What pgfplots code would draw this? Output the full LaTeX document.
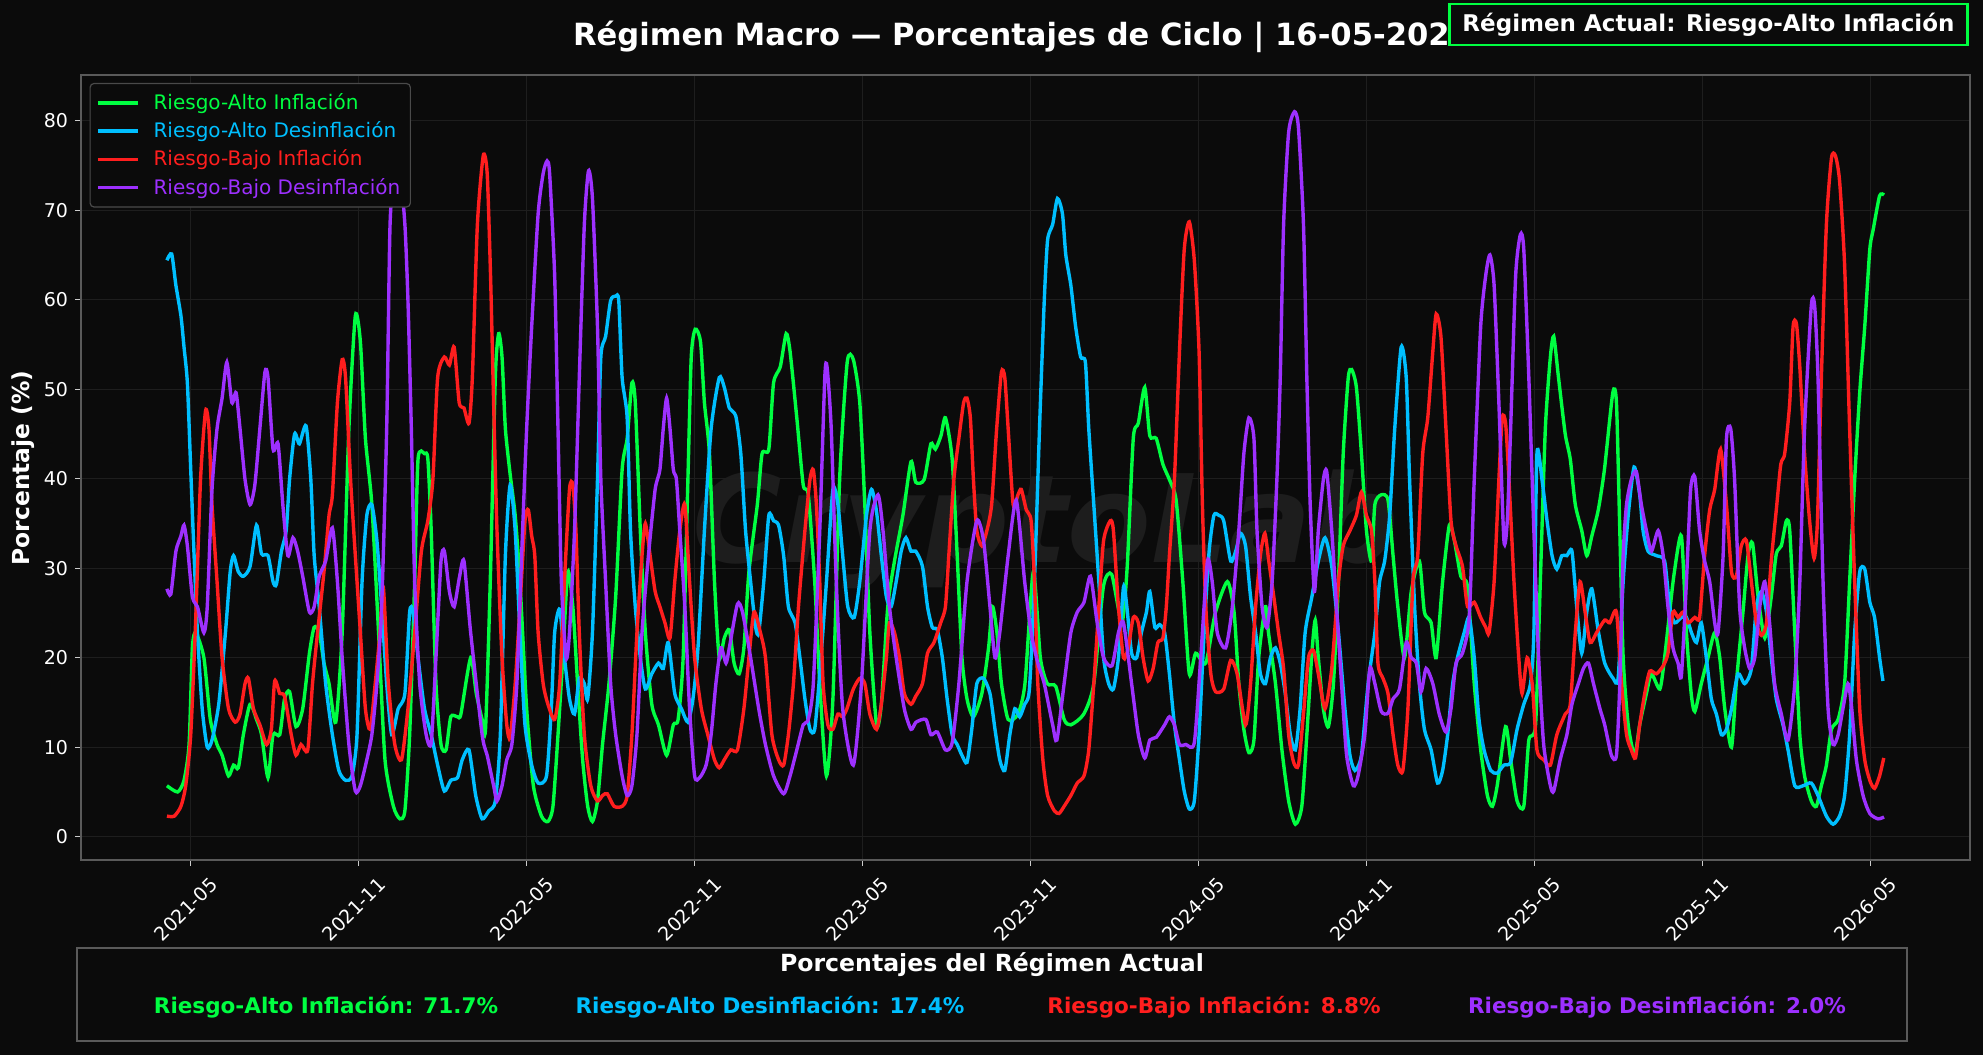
\documentclass[border=0pt]{standalone}
\usepackage{fontspec}
\setmainfont{DejaVu Sans}
\usepackage{pgfplots}
\pgfplotsset{compat=1.18}
\definecolor{bg}{HTML}{0B0B0B}
\definecolor{wm}{HTML}{1D1D1D}
\definecolor{gridc}{HTML}{1E1E1E}
\definecolor{axisc}{HTML}{5A5A5A}
\definecolor{legc}{HTML}{4A4A4A}
\definecolor{cgreen}{HTML}{00FF41}
\definecolor{cblue}{HTML}{00BFFF}
\definecolor{cred}{HTML}{FF1E1E}
\definecolor{cpurple}{HTML}{9D30FF}
\begin{document}
\begin{tikzpicture}
\path[use as bounding box, fill=bg] (0,0) rectangle (991.5pt,527.5pt);
\node[anchor=base, text=wm, font=\fontsize{61}{61}\selectfont\bfseries\itshape] at (523pt,246pt) {CryptoLab};
\begin{axis}[
  at={(40.5pt,97.5pt)}, anchor=south west,
  width=944.5pt, height=392.5pt, scale only axis,
  xmin=0.08, xmax=67.56, ymin=-2.6, ymax=85.1,
  axis line style={draw=axisc, line width=0.8pt},
  xtick={4,10,16,22,28,34,40,46,52,58,64},
  xticklabels={2021-05,2021-11,2022-05,2022-11,2023-05,2023-11,2024-05,2024-11,2025-05,2025-11,2026-05},
  ytick={0,10,20,30,40,50,60,70,80},
  tick pos=left, tick align=outside, major tick length=3pt,
  tick style={draw=white!80!black, line width=0.6pt},
  grid=major, grid style={draw=gridc, line width=0.5pt},
  ticklabel style={font=\fontsize{9.5}{11}\selectfont, text=white},
  xticklabel style={xshift=9pt, yshift=-2pt, rotate=45, anchor=north east, inner sep=2pt},
  /pgf/number format/assume math mode=true,
  legend style={at={(axis description cs:0.0045,0.99)}, anchor=north west,
    fill=bg, draw=legc, rounded corners=2pt, font=\fontsize{10}{11.5}\selectfont,
    row sep=0.6pt, inner sep=3pt, line width=0.6pt},
  legend cell align=left,
  legend image code/.code={\draw[#1] (0cm,0cm) -- (0.7cm,0cm); \path (0.88cm,0cm);},
  every axis plot/.append style={line width=1.7pt, smooth, tension=0.4},
]
\addplot[cgreen] coordinates {
(3.15,5.7)(3.53,5.0)(3.76,6.3)(3.94,10.3)(4.06,21.1)(4.18,22.8)(4.47,20)(4.7,13.1)(4.94,10.3)(5.12,9.1)(5.35,6.8)(5.53,8.0)(5.7,7.7)(5.88,11.4)(6.12,14.8)(6.35,13.1)(6.53,11.4)(6.76,6.6)(6.94,11.4)(7.18,11.4)(7.35,15.4)(7.53,16.2)(7.76,12.3)(8.0,14.3)(8.24,20.5)(8.41,23.4)(8.59,22.8)(8.76,19.4)(8.94,17.1)(9.18,12.8)(9.41,22.8)(9.65,45.6)(9.88,58.2)(10.06,55.3)(10.24,44.5)(10.47,37.1)(10.71,22.8)(10.94,8.6)(11.24,3.4)(11.47,2.0)(11.65,2.9)(11.82,11.4)(12.0,28.5)(12.12,42.2)(12.35,42.8)(12.47,42.2)(12.59,34.2)(12.76,17.1)(12.94,10.3)(13.12,9.7)(13.29,13.4)(13.53,13.4)
(13.65,13.7)(14.0,20)(14.2,16)(14.41,13.1)(14.53,12.0)(14.7,28.5)(14.88,51.3)(15.0,56.2)(15.12,53.6)(15.24,45.6)(15.41,40.5)(15.59,35.9)(15.76,28.5)(16.0,14.3)(16.24,5.7)(16.53,2.3)(16.76,1.7)(16.94,3.4)(17.12,11.4)(17.29,20)(17.47,29.6)(17.65,25.7)(17.82,17.1)(18.0,8.6)(18.18,3.4)(18.35,1.7)(18.53,4.0)(18.71,10.3)(18.94,17.1)(19.18,26.8)(19.41,41.0)(19.59,44.5)(19.76,50.7)(19.88,48.5)(20.06,34.2)(20.24,22.8)(20.47,14.8)(20.71,12.5)(21.0,9.1)(21.24,12.5)(21.41,13.1)(21.59,20)(21.76,39.9)(21.88,53.6)(22.02,56.7)(22.21,55.3)(22.35,48.5)(22.53,42.8)(22.71,28.5)(22.88,20)(23.06,22.2)(23.24,23.1)(23.41,19.4)(23.59,18.2)(23.76,21.1)(23.94,29.6)(24.24,37.1)(24.41,42.8)(24.65,43.3)(24.82,50.7)(25.06,52.5)(25.27,56.2)(25.41,54.2)(25.65,46.8)(25.88,39.3)(26.06,38.2)(26.29,28.5)(26.47,17.1)(26.71,6.8)(26.94,15.4)(27.18,39.9)
(27.45,53.0)(27.67,53.3)(27.9,48.5)(28.08,37.1)(28.26,22.8)(28.5,12.5)(28.67,14.8)(28.9,25.7)(29.14,30.8)(29.44,35.9)(29.73,41.9)(29.9,39.6)(30.2,39.9)(30.44,43.9)(30.6,43.3)(30.8,44.8)(30.96,46.8)(31.2,42.2)(31.38,31.4)(31.55,20)(31.73,15.4)(31.96,13.4)(32.26,16.0)(32.5,21.1)(32.64,25.7)(32.8,22.8)(32.96,17.1)(33.2,13.1)(33.55,13.7)(33.8,17.1)(34.1,29.6)(34.35,20)(34.6,17.1)(34.9,16.8)(35.2,13.1)(35.44,12.5)(35.9,13.7)(36.26,17.1)(36.6,27.9)(36.9,29.3)(37.26,23.9)(37.45,30)(37.67,44.5)(37.85,46.2)(38.08,50.2)(38.26,44.8)(38.49,44.5)(38.73,41.6)(38.96,39.9)(39.2,37.6)(39.44,28.5)(39.67,18.2)(39.9,20.5)(40.26,19.4)(40.6,25)
(41.03,28.5)(41.27,25.1)(41.44,17.1)(41.62,12.0)(41.8,9.4)(41.98,10.8)(42.15,20)(42.39,25.7)(42.5,22.8)(42.75,17.1)(42.98,9.7)(43.22,4.0)(43.46,1.4)(43.69,3.4)(43.87,11.4)(44.05,20.5)(44.17,24.2)(44.28,20)(44.46,14.3)(44.64,12.3)(44.82,17.1)(45.0,28.5)(45.17,42.8)(45.35,51.3)(45.47,52.2)(45.64,50.2)(45.82,42.8)(46.0,34.2)(46.18,30.8)(46.3,37.1)(46.53,38.2)(46.77,37.6)(46.95,31.4)(47.12,25.7)(47.36,20)(47.6,27.4)(47.89,30.8)(48.07,25.1)(48.31,23.9)(48.49,20)(48.72,28.5)(48.96,34.8)(49.14,33.1)(49.37,29.1)(49.61,27.9)(49.85,17.1)(50.08,9.7)(50.32,4.6)(50.5,3.4)(50.67,5.7)(50.97,12.3)(51.15,8.6)(51.38,4.0)(51.62,3.4)(51.8,10.8)(52.04,12.5)(52.21,28.5)(52.39,45.6)(52.57,53.6)(52.69,55.9)(52.86,51.3)(53.1,45.0)(53.28,42.2)(53.46,37.1)(53.69,34.2)(53.87,31.4)(54.05,33.6)(54.28,36.5)
(54.5,41)(54.8,49.6)(54.93,48.5)(55.05,34.2)(55.17,20)(55.35,12.5)(55.58,9.1)(55.76,12.5)(56.0,16.0)(56.18,18.2)(56.48,16.5)(56.65,20)(56.83,25.1)(57.0,29.6)(57.25,33.6)(57.43,22.8)(57.6,16.0)(57.73,14.0)(57.96,17.1)(58.2,20)(58.44,22.8)(58.62,20)(58.8,14.3)(59.04,10.0)(59.21,17.1)(59.45,25.1)(59.63,31.4)(59.79,32.8)(59.99,26.8)(60.23,22.2)(60.46,26.8)(60.64,31.6)(60.82,32.5)(61.0,35.3)(61.12,34.2)(61.3,22.8)(61.48,11.4)(61.65,6.8)(61.89,4.0)(62.07,3.4)(62.25,5.7)(62.43,8.0)(62.61,12.0)(62.85,13.1)(63.08,17.1)(63.26,28.5)(63.44,39.9)(63.62,49.6)(63.8,57.0)(63.98,65.6)(64.1,67.8)(64.33,71.6)(64.49,71.7)
};
\addlegendentry{\textcolor{cgreen}{Riesgo-Alto Inflación}}
\addplot[cblue] coordinates {
(3.15,64.4)(3.32,65.1)(3.47,61.6)(3.65,58.2)(3.76,54.7)(3.88,50.7)(4.0,41.0)(4.12,31.4)(4.24,22.8)(4.41,14.3)(4.59,10.0)(4.76,10.8)(5.0,14.8)(5.24,22.8)(5.41,29.6)(5.53,31.4)(5.7,29.6)(5.88,29.1)(6.12,30.2)(6.35,34.8)(6.53,31.6)(6.76,31.4)(6.94,28.5)(7.06,28.2)(7.24,31.9)(7.41,34.2)(7.53,39.9)(7.71,45.0)(7.88,43.9)(8.12,45.9)(8.29,39.9)(8.41,31.4)(8.59,25.7)(8.82,17.1)(9.06,11.4)(9.29,7.4)(9.53,6.3)(9.76,6.8)(9.94,11.4)(10.12,28.5)(10.29,35.9)(10.47,37.1)(10.65,33.1)(10.82,25.7)(11.0,17.1)(11.18,11.4)(11.41,14.3)(11.65,16.0)(11.82,25.1)(11.94,25.1)(12.12,20)(12.35,14.3)(12.59,11.4)(12.82,8.0)(13.06,5.1)(13.29,6.3)(13.53,6.6)
(13.7,8.6)(13.94,9.7)(14.18,4.6)(14.41,2.0)(14.65,2.9)(14.88,4.0)(15.06,11.4)(15.24,31.4)(15.41,39.3)(15.59,34.2)(15.76,22.8)(15.94,12.5)(16.18,8.0)(16.41,6.0)(16.71,6.8)(16.88,14.3)(17.0,22.8)(17.18,25.4)(17.35,20)(17.53,15.4)(17.71,13.7)(17.88,17.7)(18.06,17.1)(18.18,15.4)(18.35,22.8)(18.53,39.9)(18.65,53.6)(18.82,55.9)(19.0,59.9)(19.18,60.4)(19.29,59.9)(19.41,51.3)(19.59,46.8)(19.71,34.2)(19.88,25.7)(20.06,20)(20.24,16.5)(20.47,18.2)(20.71,19.4)(20.88,18.8)(21.06,21.7)(21.29,16.0)(21.53,14.3)(21.76,12.8)(21.94,15.4)(22.12,21.1)(22.35,34.2)(22.59,45.6)(22.88,51.3)(23.06,50.2)(23.24,47.9)(23.47,47.0)(23.65,42.8)(23.82,34.2)(24.0,28.5)(24.18,23.4)(24.29,22.8)(24.47,28.5)(24.65,35.9)(24.82,35.3)(25.0,34.8)(25.18,31.4)(25.35,25.7)(25.59,23.9)(25.76,20)(25.94,15.4)(26.12,12.0)(26.29,12.0)(26.47,18.2)(26.71,28.5)(26.94,38.8)(27.12,37.1)(27.29,31.4)(27.47,25.7)
(27.7,24.5)(27.9,28.5)(28.14,35.9)(28.32,38.8)(28.49,36.5)(28.67,31.4)(28.85,26.8)(29.02,25.7)(29.2,28.5)(29.38,31.9)(29.55,33.4)(29.73,31.9)(29.9,31.9)(30.14,30.2)(30.32,25.7)(30.49,23.4)(30.67,23.1)(30.85,20)(31.02,15.4)(31.2,11.4)(31.38,10.3)(31.55,9.1)(31.73,8.3)(31.9,12.0)(32.08,17.1)(32.32,17.7)(32.55,16.0)(32.73,12.0)(32.9,8.6)(33.08,7.4)(33.26,11.4)(33.44,14.3)(33.61,13.4)(33.79,14.8)(33.96,16.5)(34.14,28.5)(34.32,45.6)(34.49,59.9)(34.61,66.7)(34.79,68.4)(34.96,71.3)(35.14,69.6)(35.26,65.0)(35.44,61.6)(35.61,57.0)(35.79,53.6)(35.96,53.0)(36.08,45.6)(36.26,37.1)(36.44,28.5)(36.61,20)(36.79,17.1)(36.96,16.5)(37.14,20)(37.32,27.9)(37.44,25.7)(37.61,20.5)(37.79,20)(37.96,22.8)(38.14,25.1)(38.26,27.4)(38.44,23.4)(38.61,23.7)(38.79,22.8)(38.96,18.2)(39.14,12.5)(39.32,8.6)(39.49,5.1)(39.67,3.1)(39.85,4.0)(40.02,11.4)(40.2,22.8)(40.38,31.9)(40.55,35.9)
(40.73,35.9)(40.9,35.3)(41.15,30.8)(41.33,31.9)(41.5,33.9)(41.68,32.5)(41.86,26.8)(42.04,22.8)(42.21,18.2)(42.39,17.1)(42.57,20)(42.75,21.1)(42.92,19.4)(43.1,16.0)(43.28,11.4)(43.46,9.7)(43.63,14.3)(43.81,22.8)(44.05,26.8)(44.28,30.8)(44.52,33.4)(44.76,30.2)(45.0,22.8)(45.23,14.3)(45.41,9.1)(45.59,7.4)(45.82,9.1)(46.06,17.1)(46.3,22.8)(46.47,28.5)(46.65,30.8)(46.83,35.9)(47.01,45.6)(47.24,54.7)(47.42,51.3)(47.54,39.9)(47.72,25.7)(47.89,17.1)(48.07,12.0)(48.31,9.7)(48.54,6.0)(48.72,7.4)(48.9,11.4)(49.08,17.1)(49.25,20)(49.49,22.8)(49.67,24.5)(49.85,20)(50.02,13.1)(50.2,9.7)(50.44,7.4)(50.67,7.1)(50.91,8.0)(51.15,8.3)(51.38,12.0)(51.62,14.8)(51.86,17.1)(51.98,22.8)(52.09,42.8)(52.27,39.9)(52.45,35.3)(52.63,31.4)(52.8,29.9)(52.98,31.4)(53.16,31.4)(53.34,31.9)(53.51,25.7)(53.69,20.5)(53.87,25.1)(54.05,27.7)(54.28,23.0)
(54.51,19.4)(54.81,17.7)(54.99,17.7)(55.17,28.5)(55.35,35.9)(55.56,41.3)(55.76,38.2)(55.88,34.2)(56.06,31.9)(56.36,31.4)(56.65,30.8)(56.83,25.7)(57.01,23.9)(57.25,24.5)(57.43,24.5)(57.61,22.8)(57.79,21.7)(57.96,23.9)(58.14,20)(58.32,15.4)(58.5,13.7)(58.68,11.4)(58.86,12.0)(59.04,14.3)(59.27,18.2)(59.51,17.1)(59.75,18.8)(59.93,25.7)(60.11,27.4)(60.29,25.1)(60.46,20)(60.64,15.4)(60.88,12.5)(61.06,9.7)(61.3,5.7)(61.6,5.7)(61.89,6.0)(62.13,4.6)(62.43,2.3)(62.67,1.4)(62.9,2.3)(63.08,4.6)(63.26,11.4)(63.44,22.8)(63.62,29.6)(63.8,29.9)(63.98,26.2)(64.15,24.5)(64.33,20)(64.45,17.4)
};
\addlegendentry{\textcolor{cblue}{Riesgo-Alto Desinflación}}
\addplot[cred] coordinates {
(3.15,2.3)(3.41,2.3)(3.65,3.4)(3.82,5.7)(4.0,11.4)(4.18,24.5)(4.35,39.9)(4.53,47.6)(4.65,45.6)(4.76,37.1)(4.94,28.5)(5.12,20)(5.35,14.3)(5.59,12.8)(5.76,13.7)(5.94,17.1)(6.06,17.7)(6.24,14.3)(6.47,12.5)(6.71,10.3)(6.88,12.0)(7.0,17.4)(7.18,16.0)(7.35,15.7)(7.59,11.4)(7.76,9.1)(7.94,10.3)(8.18,9.7)(8.35,17.1)(8.53,22.8)(8.76,29.6)(8.94,35.9)(9.06,38.2)(9.24,48.5)(9.41,53.3)(9.53,51.3)(9.71,39.9)(9.88,31.4)(10.06,22.8)(10.24,14.3)(10.41,12.0)(10.59,17.1)(10.76,22.8)(10.88,27.9)(11.06,17.1)(11.29,10.3)(11.53,8.6)(11.76,14.3)(12.0,22.8)(12.24,31.9)(12.47,35.3)(12.65,39.9)(12.82,51.3)(13.06,53.6)(13.24,52.7)(13.41,54.7)(13.59,48.5)
(13.76,47.9)(13.94,46.2)(14.06,51.3)(14.24,68.4)(14.45,76.1)(14.59,74.1)(14.71,62.7)(14.82,48.5)(14.94,34.2)(15.12,20)(15.29,12.5)(15.41,11.1)(15.59,17.1)(15.76,25.7)(15.94,35.3)(16.06,36.5)(16.18,33.6)(16.29,31.4)(16.41,22.8)(16.59,17.1)(16.76,14.8)(17.0,13.1)(17.18,17.1)(17.35,28.5)(17.53,38.8)(17.65,39.3)(17.76,34.2)(17.88,22.8)(18.06,11.4)(18.29,5.7)(18.53,4.0)(18.71,4.6)(18.88,4.8)(19.12,3.4)(19.41,3.4)(19.59,4.6)(19.76,11.4)(19.94,22.8)(20.12,31.4)(20.24,35.0)(20.41,31.4)(20.59,27.4)(20.76,25.7)(20.94,23.9)(21.12,22.2)(21.29,28.5)(21.47,34.2)(21.65,37.1)(21.82,28.5)(22.0,20)(22.24,14.3)(22.47,11.4)(22.71,8.6)(22.88,7.7)(23.06,8.6)(23.29,9.7)(23.53,9.7)(23.76,14.3)(23.94,20)(24.12,25.1)(24.35,22.8)(24.53,20)(24.76,11.4)(25.0,8.6)(25.18,8.0)(25.35,11.4)(25.53,17.1)(25.71,25.7)(25.94,34.2)(26.12,39.9)(26.24,41.0)(26.35,37.1)(26.47,28.5)(26.59,17.1)(26.76,12.5)(26.94,12.0)(27.12,13.7)(27.29,13.4)
(27.44,14.3)(27.67,16.5)(27.9,17.7)(28.08,17.1)(28.26,13.7)(28.5,12.0)(28.67,14.8)(28.85,20)(28.96,23.9)(29.14,22.8)(29.32,20)(29.49,16.0)(29.73,14.8)(29.9,15.7)(30.14,17.1)(30.32,20.5)(30.55,21.7)(30.79,23.9)(30.96,25.7)(31.08,31.4)(31.26,39.9)(31.44,44.5)(31.61,48.5)(31.73,49.0)(31.85,46.8)(31.96,39.9)(32.08,34.2)(32.26,32.5)(32.44,34.2)(32.61,37.1)(32.79,45.6)(32.96,51.9)(33.08,51.3)(33.2,45.6)(33.38,37.1)(33.55,38.2)(33.67,38.8)(33.85,36.5)(34.02,35.3)(34.14,28.5)(34.26,17.1)(34.44,8.6)(34.61,4.6)(34.85,2.9)(35.02,2.6)(35.2,3.4)(35.44,4.6)(35.67,6.0)(35.91,6.8)(36.08,9.7)(36.26,17.1)(36.44,25.7)(36.61,33.1)(36.85,35.3)(36.96,34.2)(37.14,25.7)(37.32,20)(37.49,21.1)(37.67,24.5)(37.85,23.9)(38.02,20)(38.2,17.4)(38.38,18.8)(38.55,21.7)(38.73,22.2)(38.85,25.7)(38.96,31.4)(39.14,39.9)(39.32,54.2)(39.49,65.6)(39.67,68.7)(39.85,64.4)(40.02,54.2)(40.14,37.1)(40.26,25.7)(40.44,18.2)(40.61,16.2)
(40.9,16.5)(41.15,19.7)(41.38,18.2)(41.68,12.5)(41.86,17.1)(42.04,25.7)(42.21,31.4)(42.37,33.9)(42.51,30.8)(42.69,26.8)(42.86,22.8)(43.04,18.8)(43.22,11.4)(43.4,8.3)(43.57,8.0)(43.75,13.7)(43.93,20)(44.11,20.8)(44.28,18.2)(44.52,14.3)(44.76,18.8)(45.0,28.5)(45.17,32.5)(45.41,34.2)(45.64,35.9)(45.82,38.5)(46.0,35.9)(46.18,34.2)(46.3,28.5)(46.41,19.4)(46.59,17.7)(46.77,16.0)(46.95,11.4)(47.12,8.0)(47.3,7.4)(47.48,14.3)(47.66,28.5)(47.83,31.4)(48.01,42.8)(48.19,46.8)(48.37,54.2)(48.49,58.4)(48.66,55.9)(48.84,45.6)(49.02,35.3)(49.2,32.5)(49.43,30.2)(49.61,25.7)(49.85,26.2)(50.08,24.5)(50.26,23.4)(50.38,22.8)(50.56,28.5)(50.73,39.9)(50.85,46.8)(50.97,46.2)(51.09,39.9)(51.27,28.5)(51.44,20)(51.56,16.0)(51.74,20)(51.92,17.1)(52.09,9.7)(52.33,8.6)(52.57,8.0)(52.8,11.4)(53.1,13.7)(53.28,14.8)(53.46,22.8)(53.63,28.5)(53.81,25.1)(53.99,21.7)(54.22,22.8)
(54.51,24.2)(54.69,23.9)(54.93,25.1)(55.11,17.1)(55.29,11.4)(55.46,9.7)(55.61,8.8)(55.76,12.5)(55.94,16.0)(56.12,18.5)(56.36,18.2)(56.6,19.1)(56.77,20.5)(56.95,25.1)(57.13,24.5)(57.31,25.1)(57.49,23.9)(57.73,24.5)(57.9,24.5)(58.08,31.4)(58.26,36.5)(58.44,38.8)(58.65,43.3)(58.86,37.1)(59.04,29.6)(59.21,29.1)(59.39,32.5)(59.57,33.1)(59.75,28.5)(59.93,23.9)(60.11,22.5)(60.29,23.9)(60.46,30.8)(60.64,36.5)(60.8,41.6)(60.94,42.8)(61.12,48.5)(61.24,57.0)(61.36,57.3)(61.48,52.5)(61.65,42.8)(61.83,35.3)(61.99,31.1)(62.11,35.3)(62.25,51.3)(62.43,68.4)(62.61,75.8)(62.75,76.1)(62.9,73.3)(63.08,63.9)(63.26,45.6)(63.44,28.5)(63.62,14.3)(63.8,8.6)(63.98,6.3)(64.15,5.4)(64.33,6.8)(64.48,8.8)
};
\addlegendentry{\textcolor{cred}{Riesgo-Bajo Inflación}}
\addplot[cpurple] coordinates {
(3.15,27.7)(3.29,27.1)(3.47,31.9)(3.65,33.6)(3.76,34.8)(3.88,32.5)(4.06,26.8)(4.24,25.7)(4.47,22.8)(4.59,25.7)(4.76,38.8)(4.94,45.6)(5.12,49.0)(5.29,53.0)(5.47,48.5)(5.62,49.6)(5.76,45.6)(5.94,39.9)(6.12,37.1)(6.29,39.3)(6.47,45.6)(6.65,51.9)(6.76,51.3)(6.94,43.3)(7.12,43.9)(7.29,37.1)(7.47,31.4)(7.65,33.4)(7.82,31.9)(8.0,29.1)(8.24,25.1)(8.41,25.7)(8.59,29.1)(8.82,30.8)(9.06,34.5)(9.24,28.5)(9.41,20)(9.65,10.3)(9.88,5.1)(10.06,5.7)(10.29,8.6)(10.47,11.4)(10.65,17.1)(10.82,25.7)(11.0,45.6)(11.12,68.4)(11.29,74.7)(11.47,74.7)(11.65,68.4)(11.76,59.9)(11.88,45.6)(12.0,28.5)(12.18,17.1)(12.41,11.4)(12.59,10.5)(12.76,20)(12.94,30.8)(13.06,31.9)(13.24,27.4)(13.41,25.7)
(13.6,29)(13.76,30.8)(14.0,22.8)(14.41,11.4)(14.59,9.1)(14.82,5.7)(14.94,4.0)(15.12,5.7)(15.29,8.6)(15.47,10.3)(15.65,17.1)(15.82,31.4)(16.0,45.6)(16.18,57.0)(16.41,69.6)(16.59,74.1)(16.73,75.5)(16.82,74.1)(17.0,62.7)(17.12,45.6)(17.24,28.5)(17.41,20)(17.53,22.8)(17.71,34.2)(17.88,51.3)(18.06,68.4)(18.21,74.4)(18.35,71.3)(18.53,57.0)(18.65,39.9)(18.82,28.5)(19.0,17.1)(19.18,11.4)(19.41,6.8)(19.59,4.6)(19.76,5.7)(19.94,11.4)(20.12,22.8)(20.35,31.4)(20.59,38.8)(20.76,41.0)(20.88,45.6)(21.0,49.0)(21.12,45.6)(21.24,41.0)(21.35,39.9)(21.47,34.2)(21.65,25.7)(21.82,14.3)(22.0,6.8)(22.18,6.6)(22.41,8.0)(22.59,11.4)(22.76,17.1)(22.94,21.1)(23.12,19.4)(23.24,21.1)(23.53,26.0)(23.71,25.1)(24.0,20)(24.29,14.3)(24.53,10.3)(24.82,6.8)(25.18,4.8)(25.41,6.8)(25.65,9.7)(25.88,12.5)(26.06,13.1)(26.24,17.1)(26.47,34.2)(26.65,51.3)(26.73,52.5)(26.88,45.6)(27.06,28.5)(27.29,14.3)
(27.67,8.0)(27.96,17.1)(28.26,34.2)(28.55,38.2)(28.73,34.2)(28.96,25.7)(29.2,20)(29.49,14.3)(29.73,12.0)(29.91,12.8)(30.26,13.1)(30.44,11.4)(30.67,11.7)(30.96,9.7)(31.2,10.5)(31.44,17.1)(31.73,28.5)(32.08,35.3)(32.32,33.1)(32.55,25.7)(32.73,20)(32.9,22.8)(33.2,31.4)(33.49,37.6)(33.79,28.5)(34.02,22.8)(34.26,19.4)(34.49,17.1)(34.79,12.5)(34.94,10.8)(35.2,17.1)(35.44,22.8)(35.67,25.1)(35.91,26.2)(36.14,29.1)(36.38,23.9)(36.61,20)(36.91,19.1)(37.14,22.8)(37.32,23.9)(37.61,17.1)(37.85,11.4)(38.08,8.8)(38.26,10.8)(38.49,11.1)(38.79,12.5)(38.96,13.4)(39.14,12.5)(39.32,10.3)(39.55,10.3)(39.85,10.5)(40.08,20)(40.32,30.8)(40.49,28.5)(40.67,22.8)
(40.97,21.1)(41.21,25.7)(41.44,34.2)(41.62,42.8)(41.8,46.8)(41.98,44.5)(42.09,34.2)(42.27,25.7)(42.45,23.4)(42.63,28.5)(42.8,39.9)(42.92,51.3)(43.04,68.4)(43.22,78.7)(43.43,81.0)(43.57,79.2)(43.75,68.4)(43.87,51.3)(43.99,37.1)(44.14,27.4)(44.28,34.2)(44.46,39.9)(44.58,40.8)(44.76,34.2)(44.93,25.7)(45.11,17.1)(45.29,9.1)(45.53,5.7)(45.7,6.8)(45.94,11.4)(46.12,18.8)(46.3,17.1)(46.53,14.0)(46.77,13.8)(46.95,15.4)(47.18,16.5)(47.42,21.7)(47.6,20)(47.78,19.4)(47.95,16.2)(48.13,18.8)(48.37,17.1)(48.6,13.7)(48.84,11.7)(49.02,14.3)(49.2,19.4)(49.43,20.5)(49.67,24.5)(49.85,39.9)(50.08,57.0)(50.26,62.7)(50.41,65.0)(50.56,61.6)(50.73,48.5)(50.91,33.1)(51.03,35.3)(51.15,45.6)(51.33,62.7)(51.5,67.3)(51.62,65.6)(51.8,51.3)(51.98,34.2)(52.15,20)(52.33,10.3)(52.57,5.7)(52.69,5.1)(52.92,8.6)(53.16,11.4)(53.34,14.8)(53.57,17.1)(53.75,18.8)(53.93,19.4)(54.11,17.1)(54.34,14.3)
(54.51,12.5)(54.75,9.1)(54.93,9.1)(55.05,17.1)(55.17,31.4)(55.29,37.1)(55.46,39.9)(55.64,40.8)(55.82,37.1)(56.0,34.2)(56.18,31.9)(56.42,34.2)(56.6,31.4)(56.77,25.7)(56.95,21.1)(57.13,19.4)(57.25,18.0)(57.43,28.5)(57.58,38.8)(57.73,40.2)(57.9,34.2)(58.08,30.8)(58.26,28.5)(58.44,23.9)(58.56,22.8)(58.74,31.4)(58.86,44.5)(59.01,45.6)(59.15,39.9)(59.33,25.7)(59.51,21.1)(59.69,18.8)(59.87,20)(60.05,25.7)(60.23,28.5)(60.4,23.9)(60.58,17.1)(60.82,13.7)(61.06,10.8)(61.3,17.1)(61.48,28.5)(61.65,45.6)(61.89,59.3)(62.01,59.3)(62.13,51.3)(62.31,28.5)(62.49,14.3)(62.67,10.3)(62.85,11.4)(63.02,14.3)(63.2,17.1)(63.32,14.8)(63.5,8.6)(63.74,4.6)(63.98,2.6)(64.27,2.0)(64.49,2.2)
};
\addlegendentry{\textcolor{cpurple}{Riesgo-Bajo Desinflación}}
\end{axis}
\node[rotate=90, text=white, font=\bfseries\fontsize{11.7}{13}\selectfont] at (11.5pt,293.5pt) {Porcentaje (\%)};
\node[text=white, font=\bfseries\fontsize{15.3}{17}\selectfont] at (511pt,509pt) {Régimen Macro — Porcentajes de Ciclo | 16-05-2026};
\node[draw=cgreen, line width=1.3pt, fill=bg, minimum width=259pt, minimum height=20.5pt, inner sep=0pt, text=white, font=\bfseries\fontsize{11.5}{13}\selectfont] at (854.25pt,515.25pt) {Régimen Actual: Riesgo-Alto Inflación};
\draw[draw=axisc, line width=1.2pt, fill=bg] (38.5pt,7pt) rectangle (953.5pt,53.5pt);
\node[text=white, font=\bfseries\fontsize{11.8}{13}\selectfont] at (496pt,45pt) {Porcentajes del Régimen Actual};
\begin{scope}[every node/.style={font=\bfseries\fontsize{10.75}{12}\selectfont}]
\node[text=cgreen] at (163pt,24pt) {Riesgo-Alto Inflación: 71.7\%};
\node[text=cblue] at (385pt,24pt) {Riesgo-Alto Desinflación: 17.4\%};
\node[text=cred] at (607pt,24pt) {Riesgo-Bajo Inflación: 8.8\%};
\node[text=cpurple] at (828.5pt,24pt) {Riesgo-Bajo Desinflación: 2.0\%};
\end{scope}
\end{tikzpicture}
\end{document}
